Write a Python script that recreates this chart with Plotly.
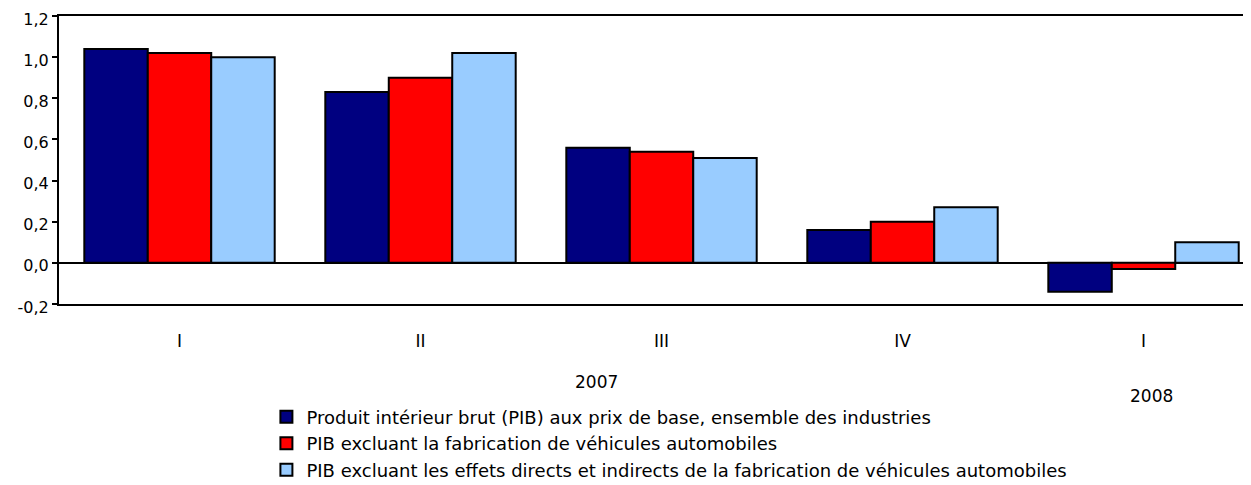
import plotly.graph_objects as go

quarters = ["I", "II", "III", "IV", "I"]
series_names = [
    "Produit intérieur brut (PIB) aux prix de base, ensemble des industries",
    "PIB excluant la fabrication de véhicules automobiles",
    "PIB excluant les effets directs et indirects de la fabrication de véhicules automobiles",
]
pib_total = [1.04, 0.83, 0.56, 0.16, -0.14]
pib_excl_auto = [1.02, 0.90, 0.54, 0.20, -0.03]
pib_excl_effets = [1.00, 1.02, 0.51, 0.27, 0.10]
colors = ["#000080", "#FF0000", "#99CCFF"]
years = ["2007", "2008"]
yticks = [-0.2, 0.0, 0.2, 0.4, 0.6, 0.8, 1.0, 1.2]
ytick_text = [f"{v:.1f}".replace(".", ",") for v in yticks]

xpos = list(range(len(quarters)))
fig = go.Figure()
for i, (name, vals) in enumerate(zip(series_names, [pib_total, pib_excl_auto, pib_excl_effets])):
    fig.add_trace(go.Bar(
        x=xpos, y=vals, name=name,
        marker=dict(color=colors[i], line=dict(color="black", width=2)),
        legendgroup=f"g{i}",
    ))

font = dict(family="DejaVu Sans, Liberation Sans, Arial, sans-serif", size=17, color="black")
fig.update_layout(
    width=1243, height=477,
    margin=dict(l=51, r=0, t=8, b=181, autoexpand=False),
    barmode="group", bargap=0.21, bargroupgap=0,
    plot_bgcolor="white", paper_bgcolor="white",
    font=font,
    showlegend=True,
    legend=dict(x=0.174, y=0.181, xanchor="left", yanchor="top",
                yref="container",
                font=dict(size=18), tracegroupgap=0,
                itemwidth=30, bgcolor="rgba(0,0,0,0)"),
    xaxis=dict(
        range=[-0.5, 4.446], tickmode="array", tickvals=xpos, ticktext=quarters,
        showline=True, linecolor="black", linewidth=2, mirror=True,
        ticks="", showgrid=False, zeroline=False, ticklabelstandoff=21,
    ),
    yaxis=dict(
        range=[-0.2, 1.2], tickmode="array", tickvals=yticks, ticktext=ytick_text,
        showline=True, linecolor="black", linewidth=2, mirror=False,
        ticks="outside", ticklen=5, tickwidth=1.5, tickcolor="black",
        tickfont=dict(size=16),
        ticklabeloverflow="allow", ticklabelshift=3,
        showgrid=False, zeroline=True, zerolinecolor="black", zerolinewidth=1.5,
    ),
    annotations=[
        dict(x=1.732, y=-0.271, xref="x", yref="paper", text=years[0],
             showarrow=False, font=font, xanchor="center", yanchor="middle"),
        dict(x=4.035, y=-0.319, xref="x", yref="paper", text=years[1],
             showarrow=False, font=font, xanchor="center", yanchor="middle"),
    ],
)
fig.write_html("out.html")
